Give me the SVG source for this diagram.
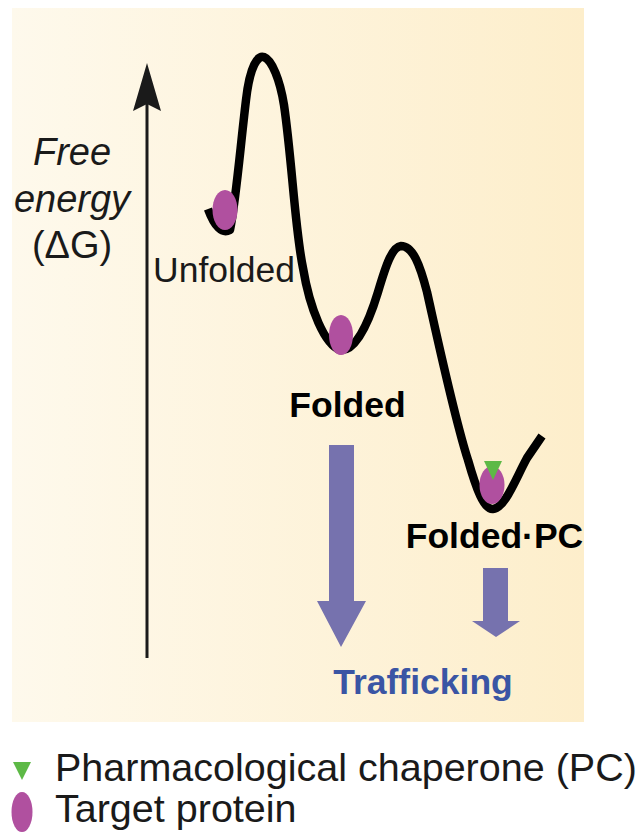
<svg xmlns="http://www.w3.org/2000/svg" width="639" height="840" viewBox="0 0 639 840">
<defs>
<linearGradient id="bg" x1="0" y1="0" x2="1" y2="0">
<stop offset="0" stop-color="#fef9ec"/>
<stop offset="1" stop-color="#fdeecb"/>
</linearGradient>
<style>
.t{font-family:"Liberation Sans",Arial,sans-serif;fill:#1a1a1a}
.b{font-weight:bold;fill:#000}
.prot{fill:#b0509f}
.pc{fill:#5db946}
.flow{fill:#7672ae}
</style>
</defs>
<rect x="12" y="8" width="572" height="714" fill="url(#bg)"/>
<g id="axis">
<line x1="147" y1="104" x2="147" y2="658" stroke="#1a1a1a" stroke-width="3"/>
<path d="M147,63 L161,111 L147,104 L133,111 Z" fill="#1a1a1a"/>
<text class="t" x="72" y="165" font-size="38" font-style="italic" text-anchor="middle">Free</text>
<text class="t" x="72" y="212" font-size="38" font-style="italic" text-anchor="middle">energy</text>
<text class="t" x="72" y="258" font-size="38" text-anchor="middle">(ΔG)</text>
</g>
<g id="landscape">
<path d="M208,209 Q218,236 230,230 C236,200 240,150 246,100 C250,65 258,55 264,57 C272,60 280,80 284,105 C292,160 295,230 303,268 C310,310 325,345 340,350 C355,352 368,325 378,292 C386,265 392,247 401,246 C413,246 420,265 427,292 C440,350 455,420 468,460 C476,488 484,510 493,509 C505,508 515,480 527,458 L542,436" fill="none" stroke="#000" stroke-width="8.5" stroke-linejoin="round"/>
</g>
<g id="unfolded">
<ellipse class="prot" cx="225" cy="210" rx="12.5" ry="20"/>
<text class="t" x="153" y="282" font-size="35.5">Unfolded</text>
</g>
<g id="folded">
<ellipse class="prot" cx="341" cy="335" rx="12" ry="20"/>
<text class="t b" x="347.5" y="417" font-size="35.5" text-anchor="middle">Folded</text>
</g>
<g id="folded-pc">
<ellipse class="prot" cx="492" cy="485" rx="12.5" ry="19"/>
<path class="pc" d="M484,461 L502,461 L493,480 Z"/>
<text class="t b" x="494.5" y="548" font-size="35.5" text-anchor="middle">Folded·PC</text>
</g>
<g id="connectors">
<path class="flow" d="M329,445 L354,445 L354,601 L366,601 L341,647 L317,601 L329,601 Z"/>
<path class="flow" d="M483,568 L508,568 L508,621 L520,621 L496,637 L472,621 L483,621 Z"/>
</g>
<g id="trafficking">
<text class="t b" x="423" y="694" font-size="35.5" text-anchor="middle" style="fill:#3a55a4">Trafficking</text>
</g>
<g id="legend">
<path class="pc" d="M13,762 L31,762 L22,780 Z"/>
<text class="t" x="55" y="781" font-size="39.5">Pharmacological chaperone (PC)</text>
<ellipse class="prot" cx="22" cy="812" rx="10.5" ry="20"/>
<text class="t" x="55" y="822" font-size="39.5">Target protein</text>
</g>
</svg>
